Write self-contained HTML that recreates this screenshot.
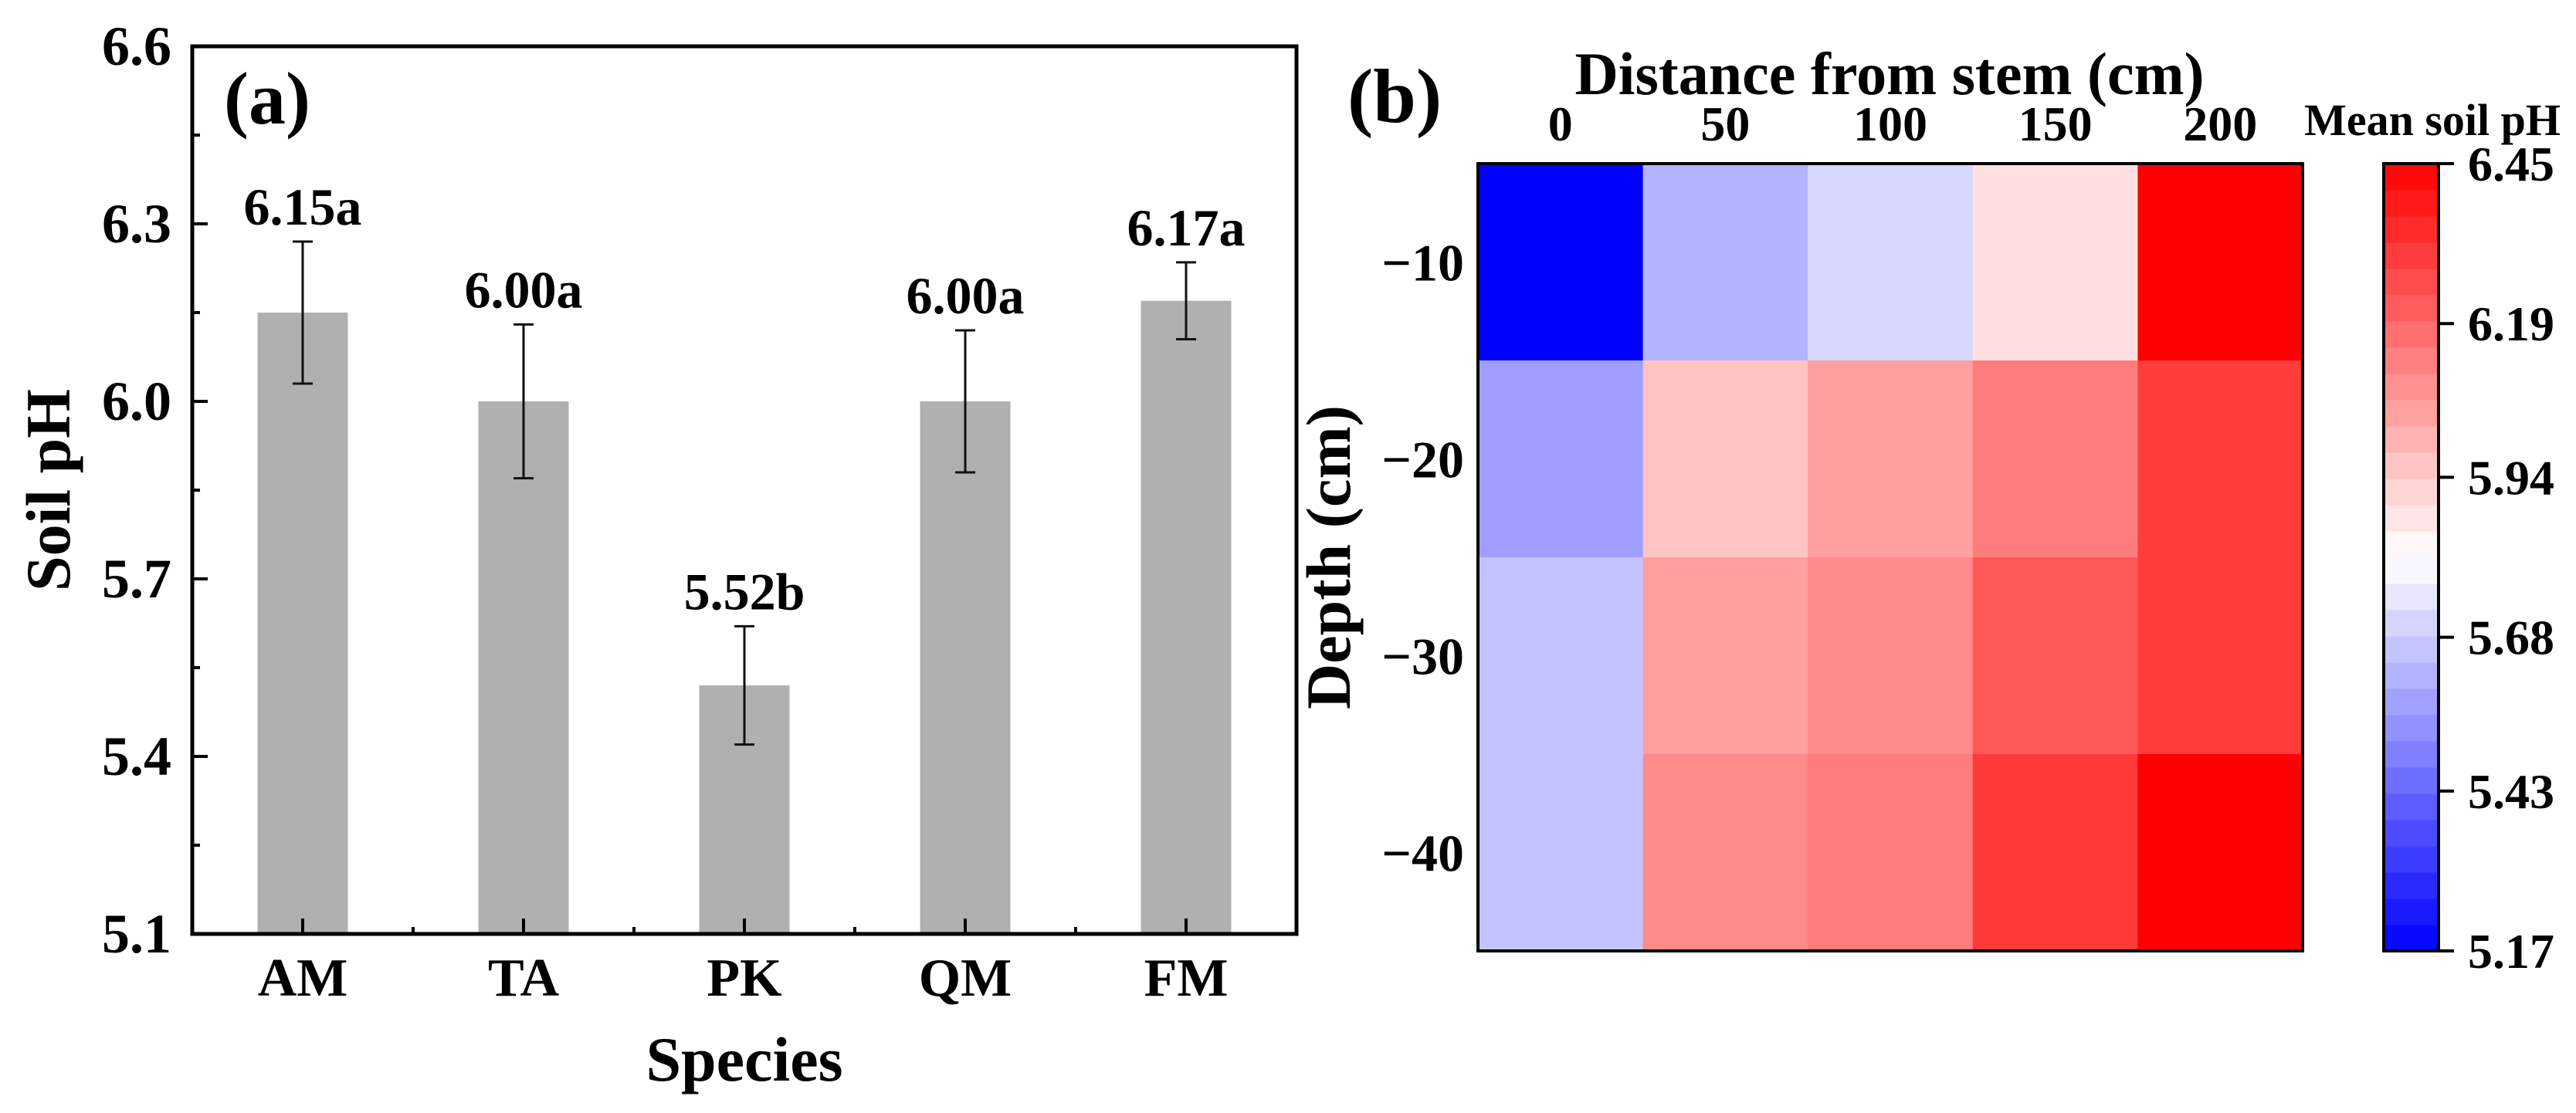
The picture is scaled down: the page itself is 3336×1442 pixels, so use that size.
<!DOCTYPE html>
<html><head><meta charset="utf-8"><style>
html,body{margin:0;padding:0;background:#fff}
svg text{font-family:"Liberation Serif",serif;font-weight:bold;fill:#000}
</style></head><body>
<svg id="fig" width="3336" height="1437" viewBox="0 0 3336 1437" xmlns="http://www.w3.org/2000/svg">
<g id="pa"></g>
<g id="pb"></g>
</svg>
<script>
const species = ["AM","TA","PK","QM","FM"];
const meanPH = [6.15, 6.00, 5.52, 6.00, 6.17];
const errPH = [0.12, 0.13, 0.10, 0.12, 0.065];
const barLabels = ["6.15a","6.00a","5.52b","6.00a","6.17a"];
const yTicks = [5.1, 5.4, 5.7, 6.0, 6.3, 6.6];
const yTickLabels = ["5.1","5.4","5.7","6.0","6.3","6.6"];

const distances = ["0","50","100","150","200"];
const depths = ["\u221210","\u221220","\u221230","\u221240"];
const heat = [
 [5.17, 5.62, 5.71, 5.89, 6.45],
 [5.57, 5.96, 6.05, 6.14, 6.30],
 [5.66, 6.05, 6.10, 6.23, 6.30],
 [5.66, 6.10, 6.14, 6.31, 6.45]
];
const cbTicks = [5.17, 5.43, 5.68, 5.94, 6.19, 6.45];
const cbTickLabels = ["5.17","5.43","5.68","5.94","6.19","6.45"];

const NS="http://www.w3.org/2000/svg";
function mk(parent, tag, attrs, txt){const e=document.createElementNS(NS,tag);for(const k in attrs)e.setAttribute(k,attrs[k]);if(txt!==undefined)e.textContent=txt;parent.appendChild(e);return e;}

// ---------- Panel A ----------
const pa=document.getElementById('pa');
const L=249,R=1679,T=60,B=1210,ymin=5.1,ymax=6.6;
const y=v=>B-(v-ymin)/(ymax-ymin)*(B-T);
const step=(R-L)/species.length;
const xc=i=>L+step*(i+0.5);
const bw=117;
species.forEach((s,i)=>{
  const r=mk(pa,'rect',{x:xc(i)-bw/2,y:y(meanPH[i]),width:bw,height:B-y(meanPH[i]),fill:'#b0b0b0'});
  
  
  const top=y(meanPH[i]+errPH[i]),bot=y(meanPH[i]-errPH[i]);
  const g=mk(pa,'g',{stroke:'#111','stroke-width':3});
  
  
  mk(g,'line',{x1:xc(i),x2:xc(i),y1:top,y2:bot});
  mk(g,'line',{x1:xc(i)-13,x2:xc(i)+13,y1:top,y2:top});
  mk(g,'line',{x1:xc(i)-13,x2:xc(i)+13,y1:bot,y2:bot});
  const t=mk(pa,'text',{x:xc(i),y:top-22,'font-size':68,'text-anchor':'middle'},barLabels[i]);
  
  
  const xl=mk(pa,'text',{x:xc(i),y:1290,'font-size':70,'text-anchor':'middle'},s);
  
  
  mk(pa,'line',{x1:xc(i),x2:xc(i),y1:B,y2:B-20,stroke:'#000','stroke-width':4});
  if(i>0) mk(pa,'line',{x1:L+step*i,x2:L+step*i,y1:B,y2:B-9,stroke:'#000','stroke-width':4});
});
yTicks.forEach((v,i)=>{
  mk(pa,'line',{x1:L,x2:L+20,y1:y(v),y2:y(v),stroke:'#000','stroke-width':4});
  if(i<yTicks.length-1){const m=(v+yTicks[i+1])/2;mk(pa,'line',{x1:L,x2:L+10,y1:y(m),y2:y(m),stroke:'#000','stroke-width':4});}
  const t=mk(pa,'text',{x:222,y:y(v)+24,'font-size':72,'text-anchor':'end'},yTickLabels[i]);
  
  
});
const fr=mk(pa,'rect',{x:L,y:T,width:R-L,height:B-T,fill:'none',stroke:'#000','stroke-width':5});


let t1=mk(pa,'text',{x:290,y:160,'font-size':96},'(a)');


t1=mk(pa,'text',{x:964,y:1400,'font-size':82,'text-anchor':'middle'},'Species');


t1=mk(pa,'text',{x:0,y:0,'font-size':82,'text-anchor':'middle',transform:'translate(90,635) rotate(-90)'},'Soil pH');



// ---------- Panel B ----------
const pb=document.getElementById('pb');
const HL=1914,HR=2982,HT=212,HB=1232,vmin=5.17,vmax=6.45;
const cw=(HR-HL)/distances.length,ch=(HB-HT)/depths.length;
function col(v){
  const t=Math.max(0,Math.min(1,(v-vmin)/(vmax-vmin)));
  let r,g,b;
  if(t<0.5){const f=t/0.5;r=Math.round(255*f);g=r;b=255;}
  else{const f=(1-t)/0.5;r=255;g=Math.round(255*f);b=g;}
  return `rgb(${r},${g},${b})`;
}
heat.forEach((row,ri)=>row.forEach((v,ci)=>{
  const c=mk(pb,'rect',{x:HL+ci*cw,y:HT+ri*ch,width:cw+0.5,height:ch+0.5,fill:col(v)});
  
  
}));
const hf=mk(pb,'rect',{x:HL,y:HT,width:HR-HL,height:HB-HT,fill:'none',stroke:'#000','stroke-width':4});


distances.forEach((d,i)=>{
  const t=mk(pb,'text',{x:HL+cw*(i+0.5),y:182,'font-size':64,'text-anchor':'middle'},d);
  
  
});
depths.forEach((d,i)=>{
  const t=mk(pb,'text',{x:1896,y:HT+ch*(i+0.5)+24,'font-size':68,'text-anchor':'end'},d);
  
  
});
t1=mk(pb,'text',{x:2447,y:122,'font-size':78,'text-anchor':'middle'},'Distance from stem (cm)');


t1=mk(pb,'text',{x:0,y:0,'font-size':82,'text-anchor':'middle',transform:'translate(1748,722) rotate(-90)'},'Depth (cm)');


t1=mk(pb,'text',{x:1745,y:158,'font-size':100},'(b)');


// colorbar
const CL=3087,CR=3158,CT=212,CB=1232,nb=30;
const cy=v=>CB-(v-vmin)/(vmax-vmin)*(CB-CT);
for(let k=0;k<nb;k++){
  const v=vmin+(k+0.5)/nb*(vmax-vmin);
  const h=(CB-CT)/nb;
  const r=mk(pb,'rect',{x:CL,y:CB-(k+1)*h,width:CR-CL,height:h+0.5,fill:col(v)});
  
  
}
const cf=mk(pb,'rect',{x:CL,y:CT,width:CR-CL,height:CB-CT,fill:'none',stroke:'#000','stroke-width':4});


cbTicks.forEach((v,i)=>{
  mk(pb,'line',{x1:CR,x2:CR+20,y1:cy(v),y2:cy(v),stroke:'#000','stroke-width':4});
  const t=mk(pb,'text',{x:3196,y:cy(v)+22,'font-size':64},cbTickLabels[i]);
  
  
});
t1=mk(pb,'text',{x:3316,y:175,'font-size':58,'text-anchor':'end'},'Mean soil pH');


</script>
</body></html>
